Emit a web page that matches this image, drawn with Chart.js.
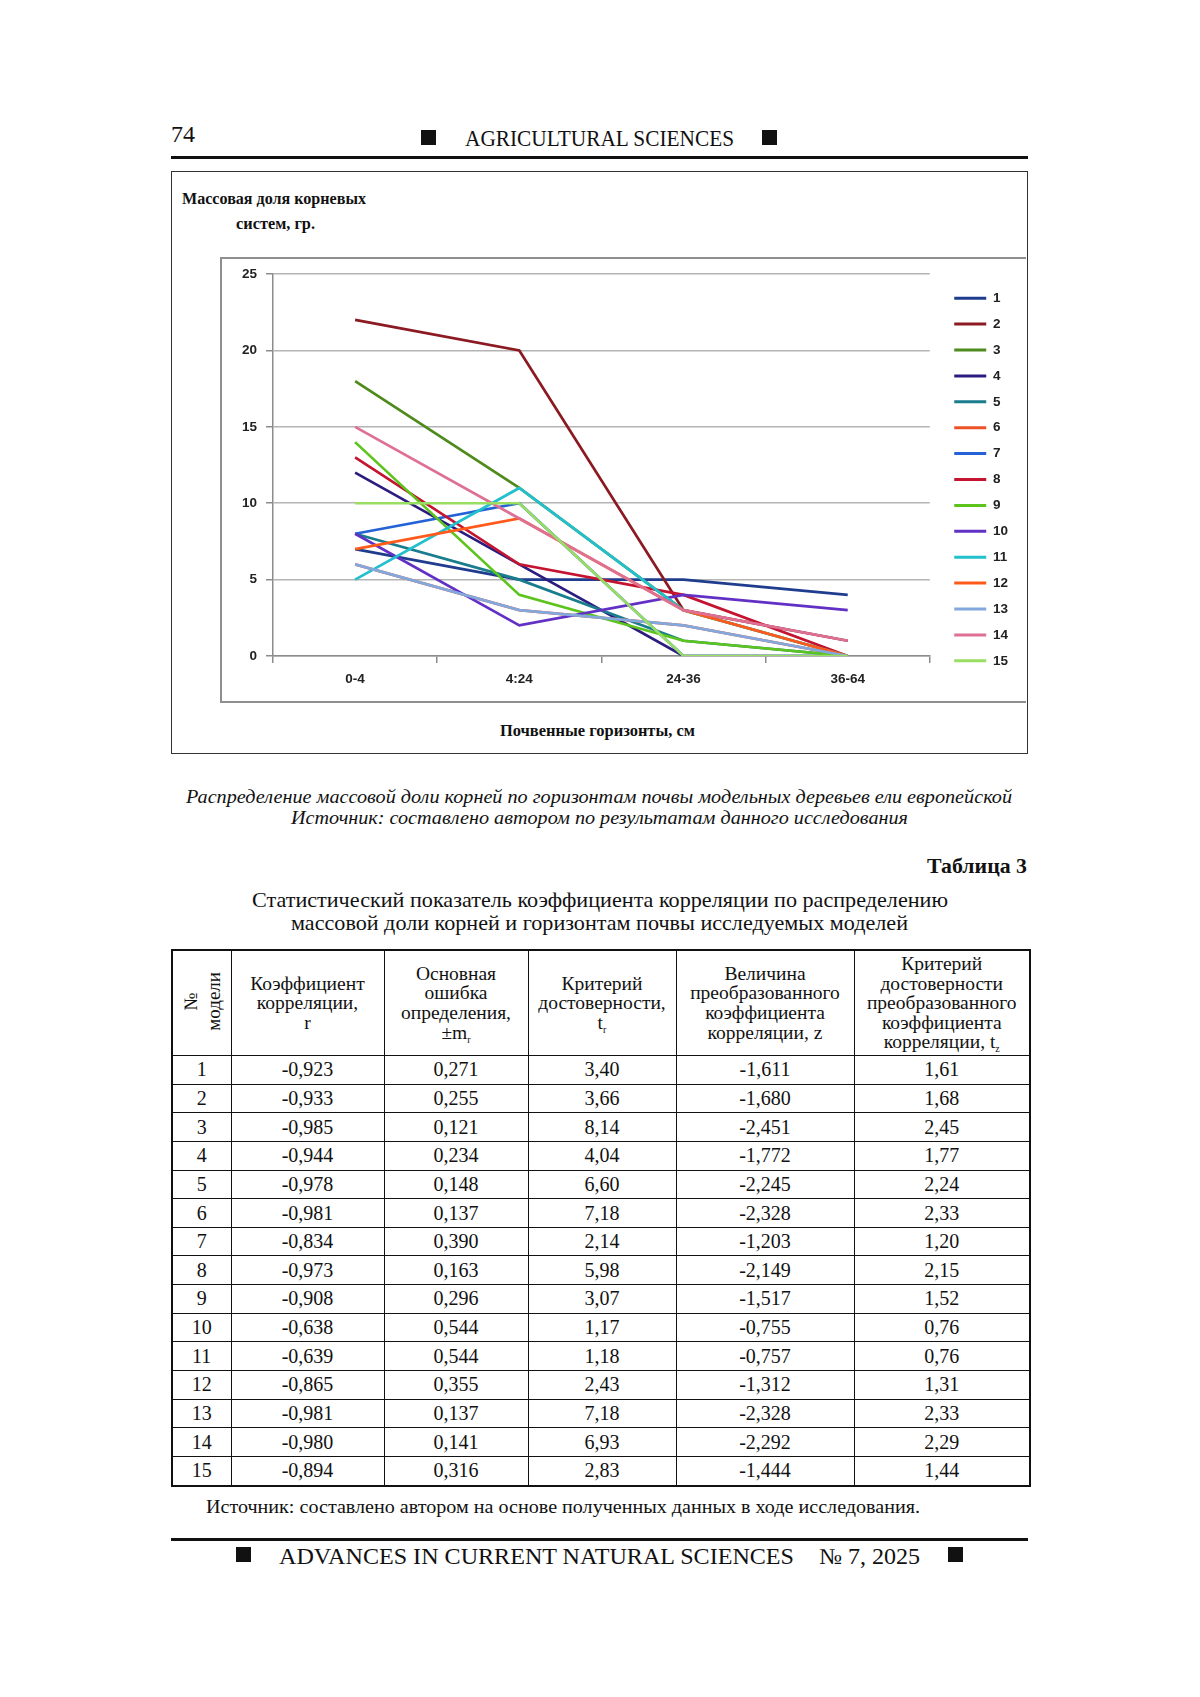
<!DOCTYPE html>
<html>
<head>
<meta charset="utf-8">
<script src="https://cdn.jsdelivr.net/npm/chart.js@4.4.1/dist/chart.umd.min.js"></script>
<style>
  body { margin: 0; background: #fff; }
  #page { position: relative; width: 1200px; height: 1697px; font-family: "Liberation Serif", "DejaVu Serif", serif; color: #111; overflow: hidden; }
  .t { position: absolute; white-space: nowrap; transform-origin: left center; line-height: 1; }
  .sq { position: absolute; background: #111; }
  .rule { position: absolute; left: 171px; width: 857px; height: 3px; background: #111; }
  #chartBox { position: absolute; left: 171px; top: 171px; width: 857px; height: 583px; box-sizing: border-box; border: 1.5px solid #333; }
  #plotBox { position: absolute; left: 220px; top: 257px; width: 806px; height: 446px; box-sizing: border-box; border: 2px solid #8e8e8e; border-right: none; }
  #rootChart { position: absolute; left: 220px; top: 257px; }
  #stats { position: absolute; left: 171px; top: 949px; width: 858px; border-collapse: collapse; table-layout: fixed; border: 2px solid #111; }
  #stats td, #stats th { border: 1.5px solid #111; text-align: center; vertical-align: middle; padding: 0; }
  #stats th { font-weight: normal; font-size: 19.5px; line-height: 19.6px; height: 104px; overflow: hidden; }
  #stats td { font-size: 20px; height: 27.65px; }
  #stats sub { font-size: 10px; vertical-align: -4px; line-height: 0; }
  .vert { display: inline-block; writing-mode: vertical-rl; text-orientation: sideways; transform: rotate(180deg); line-height: 23px; font-size: 19px; }
</style>
</head>
<body>
<div id="page">
  <div class="t" style="left:171px;top:134px;font-size:23px" data-w="24">74</div>
  <div class="sq" style="left:421px;top:130px;width:15px;height:15px"></div>
  <div class="t" style="left:465px;top:138px;font-size:23px" data-w="269">AGRICULTURAL SCIENCES</div>
  <div class="sq" style="left:762px;top:130px;width:15px;height:15px"></div>
  <div class="rule" style="top:156px"></div>

  <div id="chartBox"></div>
  <div id="plotBox"></div>
  <canvas id="rootChart" width="806" height="446"></canvas>
  <div class="t" style="left:182px;top:198px;font-size:17px;font-weight:bold" data-w="184">Массовая доля корневых</div>
  <div class="t" style="left:236px;top:223px;font-size:17px;font-weight:bold" data-w="79">систем, гр.</div>
  <div class="t" style="left:500px;top:730px;font-size:17px;font-weight:bold" data-w="195">Почвенные горизонты, см</div>

  <div class="t" style="left:186px;top:796px;font-size:19px;font-style:italic" data-w="826">Распределение массовой доли корней по горизонтам почвы модельных деревьев ели европейской</div>
  <div class="t" style="left:291px;top:817px;font-size:19px;font-style:italic" data-w="617">Источник: составлено автором по результатам данного исследования</div>

  <div class="t" style="left:927px;top:866px;font-size:21px;font-weight:bold" data-w="100">Таблица 3</div>
  <div class="t" style="left:252px;top:900px;font-size:21px" data-w="696">Статистический показатель коэффициента корреляции по распределению</div>
  <div class="t" style="left:291px;top:923px;font-size:21px" data-w="617">массовой доли корней и горизонтам почвы исследуемых моделей</div>

  <table id="stats">
    <colgroup>
      <col style="width:59px"><col style="width:153px"><col style="width:144px">
      <col style="width:148px"><col style="width:178px"><col style="width:176px">
    </colgroup>
    <thead>
      <tr>
        <th><span class="vert">№<br>модели</span></th>
        <th>Коэффициент<br>корреляции,<br>r</th>
        <th>Основная<br>ошибка<br>определения,<br>±m<sub>r</sub></th>
        <th>Критерий<br>достоверности,<br>t<sub>r</sub></th>
        <th>Величина<br>преобразованного<br>коэффициента<br>корреляции, z</th>
        <th>Критерий<br>достоверности<br>преобразованного<br>коэффициента<br>корреляции, t<sub>z</sub></th>
      </tr>
    </thead>
    <tbody id="statsBody"></tbody>
  </table>

  <div class="t" style="left:206px;top:1507px;font-size:18px" data-w="714">Источник: составлено автором на основе полученных данных в ходе исследования.</div>

  <div class="rule" style="top:1538px"></div>
  <div class="sq" style="left:236px;top:1547px;width:15px;height:15px"></div>
  <div class="t" style="left:279px;top:1556px;font-size:23px" data-w="515">ADVANCES IN CURRENT NATURAL SCIENCES</div>
  <div class="t" style="left:819px;top:1556px;font-size:23px" data-w="101">№ 7, 2025</div>
  <div class="sq" style="left:948px;top:1547px;width:15px;height:15px"></div>
</div>

<script>
// soil horizons (x categories) and root mass per model tree
const horizons = ['0-4', '4:24', '24-36', '36-64'];
const m1 = [7, 5, 5, 4];
const m2 = [22, 20, 3, 1];
const m3 = [18, 11, 3, 0];
const m4 = [12, 6, 0, 0];
const m5 = [8, 5, 1, 0];
const m6 = [6, 3, 2, 0];
const m7 = [8, 10, 0, 0];
const m8 = [13, 6, 4, 0];
const m9 = [14, 4, 1, 0];
const m10 = [8, 2, 4, 3];
const m11 = [5, 11, 3, 0];
const m12 = [7, 9, 3, 0];
const m13 = [6, 3, 2, 0];
const m14 = [15, 9, 3, 1];
const m15 = [10, 10, 0, 0];
const models = [m1, m2, m3, m4, m5, m6, m7, m8, m9, m10, m11, m12, m13, m14, m15];
const modelColors = ['#1f3c8e', '#8c1a22', '#4e8a1c', '#2c1c80', '#1a7d8e', '#ec5225', '#2462d6', '#c41430',
  '#5cc41c', '#6230c4', '#22bfcc', '#ff5a1c', '#82a8de', '#de7094', '#98de62'];
const yTicks = { min: 0, max: 25, step: 5 };

// table 3
const tableRows = [
  ['1', '-0,923', '0,271', '3,40', '-1,611', '1,61'],
  ['2', '-0,933', '0,255', '3,66', '-1,680', '1,68'],
  ['3', '-0,985', '0,121', '8,14', '-2,451', '2,45'],
  ['4', '-0,944', '0,234', '4,04', '-1,772', '1,77'],
  ['5', '-0,978', '0,148', '6,60', '-2,245', '2,24'],
  ['6', '-0,981', '0,137', '7,18', '-2,328', '2,33'],
  ['7', '-0,834', '0,390', '2,14', '-1,203', '1,20'],
  ['8', '-0,973', '0,163', '5,98', '-2,149', '2,15'],
  ['9', '-0,908', '0,296', '3,07', '-1,517', '1,52'],
  ['10', '-0,638', '0,544', '1,17', '-0,755', '0,76'],
  ['11', '-0,639', '0,544', '1,18', '-0,757', '0,76'],
  ['12', '-0,865', '0,355', '2,43', '-1,312', '1,31'],
  ['13', '-0,981', '0,137', '7,18', '-2,328', '2,33'],
  ['14', '-0,980', '0,141', '6,93', '-2,292', '2,29'],
  ['15', '-0,894', '0,316', '2,83', '-1,444', '1,44']
];

const body = document.getElementById('statsBody');
body.innerHTML = tableRows.map(r => '<tr>' + r.map(c => `<td>${c}</td>`).join('') + '</tr>').join('');

// squeeze the condensed serif lines to the widths of the page
document.querySelectorAll('[data-w]').forEach(el => {
  const nat = el.getBoundingClientRect().width;
  el.style.transform = `translateY(-50%) scaleX(${el.dataset.w / nat})`;
});

const tickFont = { family: '"Liberation Sans", Arial, sans-serif', size: 13.5, weight: 'bold' };
const ctx = document.getElementById('rootChart').getContext('2d');
new Chart(ctx, {
  type: 'line',
  data: {
    labels: horizons,
    datasets: models.map((d, i) => ({
      label: String(i + 1),
      data: d,
      borderColor: modelColors[i],
      backgroundColor: modelColors[i],
      borderWidth: 2.7,
      pointRadius: 0,
      tension: 0,
      order: models.length - i
    }))
  },
  options: {
    responsive: false,
    animation: false,
    events: [],
    layout: { padding: { top: 16, bottom: 17, left: 0, right: 8 } },
    plugins: {
      tooltip: { enabled: false },
      legend: {
        position: 'right',
        align: 'center',
        labels: {
          boxWidth: 32,
          boxHeight: 3,
          padding: 12.4,
          color: '#222',
          font: tickFont,
          sort: (a, b) => a.datasetIndex - b.datasetIndex,
          generateLabels: chart => Chart.defaults.plugins.legend.labels.generateLabels(chart)
            .map(l => Object.assign(l, { lineWidth: 0 }))
        }
      }
    },
    scales: {
      x: {
        offset: true,
        grid: { drawOnChartArea: false, offset: true, tickLength: 7, color: '#8c8c8c', lineWidth: 1.5 },
        border: { color: '#8c8c8c', width: 1.5 },
        ticks: { padding: 8, color: '#222', font: tickFont },
        afterFit: s => { s.height = 30; }
      },
      y: {
        min: yTicks.min,
        max: yTicks.max,
        ticks: { stepSize: yTicks.step, padding: 9, color: '#222', font: tickFont },
        grid: { color: '#b4b4b4', lineWidth: 1.5, tickLength: 7, tickColor: '#8c8c8c' },
        border: { color: '#8c8c8c', width: 1.5 },
        afterFit: s => { s.width = 53; }
      },
      gap: {
        position: 'right',
        grid: { display: false },
        ticks: { display: false },
        border: { display: false },
        afterFit: s => { s.width = 12; }
      }
    }
  }
});
</script>
</body>
</html>
